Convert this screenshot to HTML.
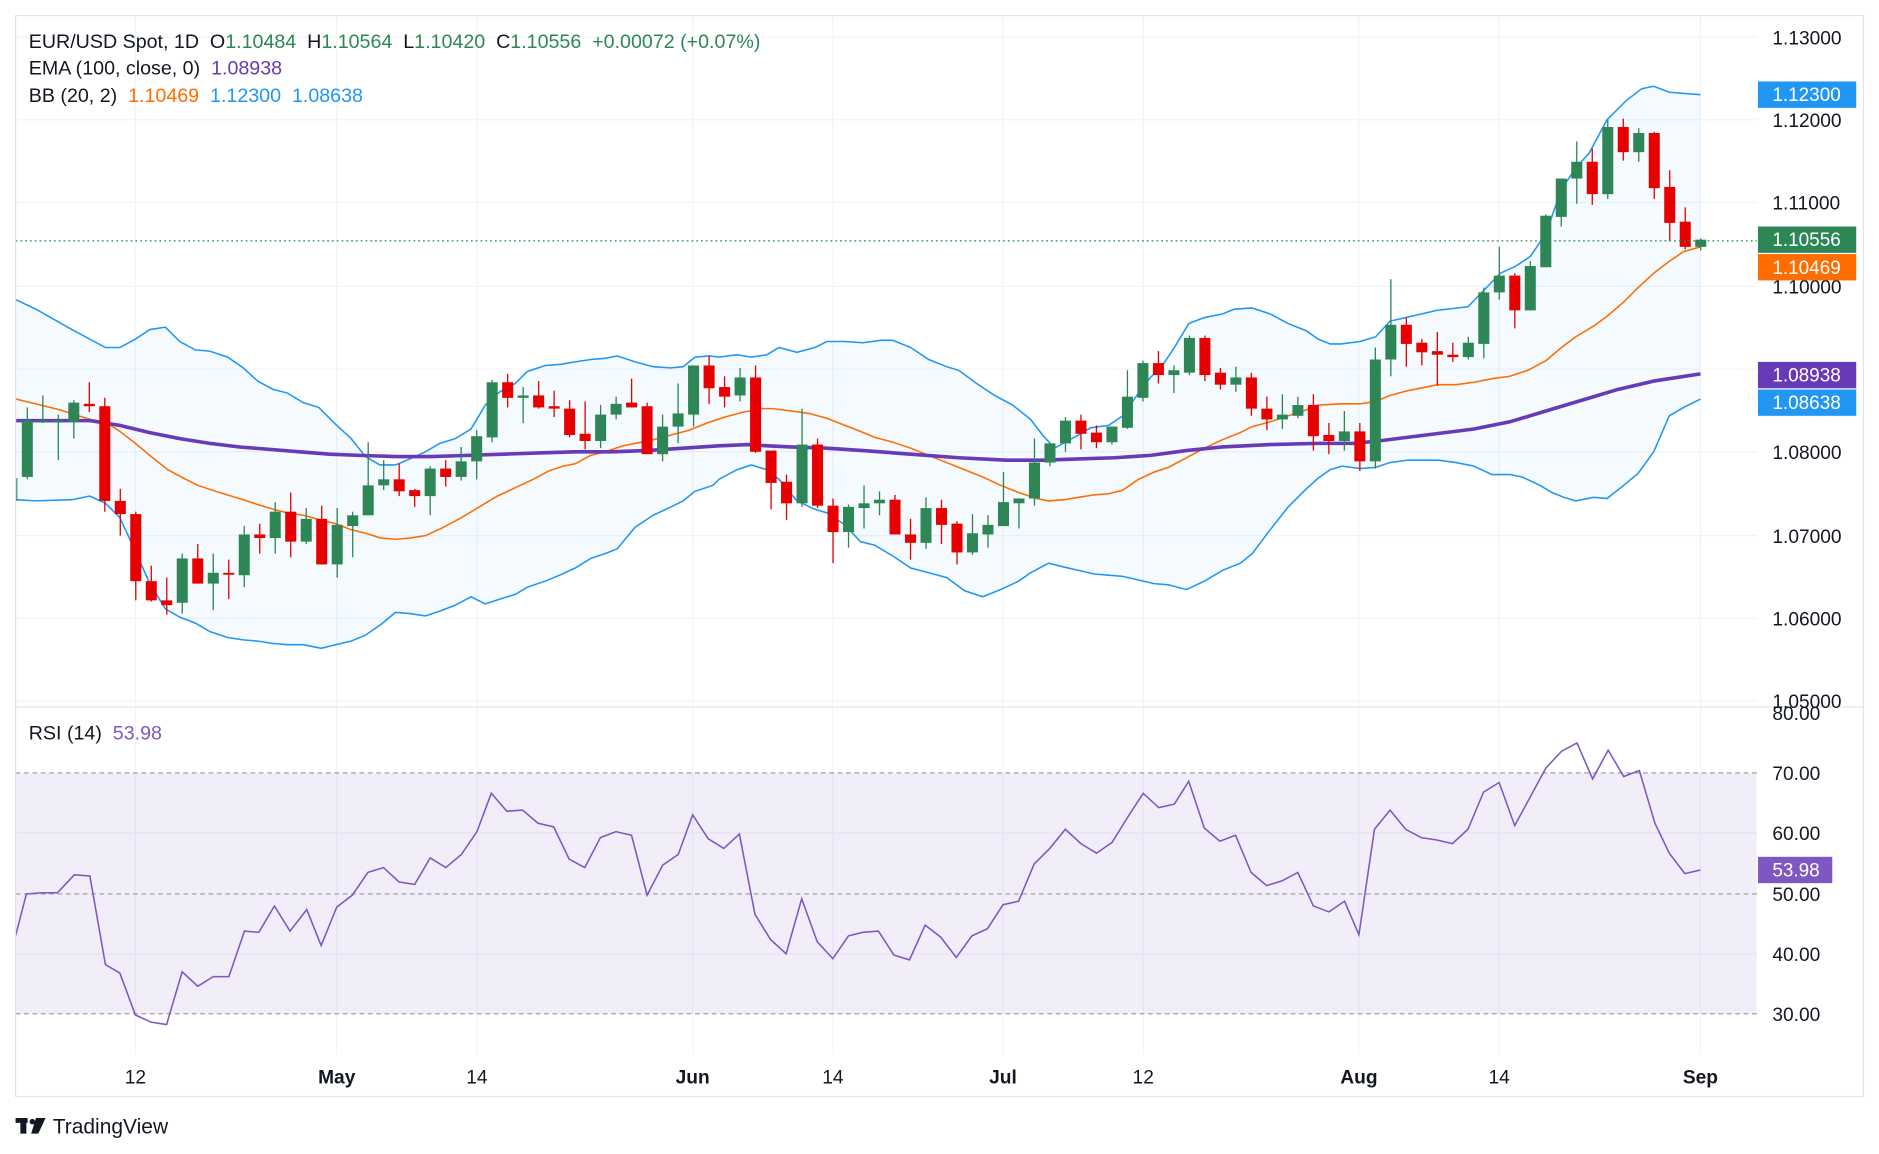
<!DOCTYPE html>
<html><head><meta charset="utf-8"><style>
html,body{margin:0;padding:0;background:#fff;}
svg{display:block;}
text{font-family:"Liberation Sans",sans-serif;white-space:pre;}
</style></head><body>
<svg id="s" width="1879" height="1154" viewBox="0 0 1568 963" preserveAspectRatio="none" xmlns="http://www.w3.org/2000/svg" xml:space="preserve">
<rect x="0" y="0" width="1568" height="963" fill="#fff"/>
<g id="grid" stroke="#f0f3fa" stroke-width="1"></g>
<path id="bbfill" fill="#2196f3" fill-opacity="0.05" stroke="none"/>
<rect x="13" y="645" width="1453" height="201" fill="#7e57c2" fill-opacity="0.1"/>
<g stroke="#9598a1" stroke-width="1" stroke-dasharray="4,3">
<line x1="13" y1="645" x2="1466" y2="645"/><line x1="13" y1="746" x2="1466" y2="746"/><line x1="13" y1="846" x2="1466" y2="846"/>
</g>
<polyline id="bbu" fill="none" stroke="#2196f3" stroke-width="1.3"/>
<polyline id="bbl" fill="none" stroke="#2196f3" stroke-width="1.3"/>
<polyline id="bbm" fill="none" stroke="#ff6d00" stroke-width="1.3"/>
<polyline id="ema" fill="none" stroke="#673ab7" stroke-width="3"/>
<g id="candles"></g>
<line x1="13" y1="201" x2="1466" y2="201" stroke="#2e8656" stroke-width="1" stroke-dasharray="1.5,2.5"/>
<polyline id="rsi" fill="none" stroke="#7e57c2" stroke-width="1.3"/>
<line x1="13" y1="590" x2="1555" y2="590" stroke="#e0e3eb" stroke-width="1"/>
<rect x="13" y="13" width="1542" height="902" fill="none" stroke="#e0e3eb" stroke-width="1"/>
<g font-size="16" fill="#131722">
<text x="1479" y="37">1.13000</text>
<text x="1479" y="106">1.12000</text>
<text x="1479" y="175">1.11000</text>
<text x="1479" y="245">1.10000</text>
<text x="1479" y="383">1.08000</text>
<text x="1479" y="453">1.07000</text>
<text x="1479" y="522">1.06000</text>
<text x="1479" y="591">1.05000</text>
<text x="1479" y="601">80.00</text>
<text x="1479" y="651">70.00</text>
<text x="1479" y="701">60.00</text>
<text x="1479" y="752">50.00</text>
<text x="1479" y="802">40.00</text>
<text x="1479" y="852">30.00</text>
</g>
<g font-size="15.8" fill="#fff">
<rect x="1467" y="68" width="82" height="22" fill="#2196f3"/><text x="1479" y="84.5">1.12300</text>
<rect x="1467" y="189" width="82" height="22" fill="#2e8656"/><text x="1479" y="205.5">1.10556</text>
<rect x="1467" y="212" width="82" height="22" fill="#ff6d00"/><text x="1479" y="228.5">1.10469</text>
<rect x="1467" y="302" width="82" height="22" fill="#673ab7"/><text x="1479" y="318.5">1.08938</text>
<rect x="1467" y="325" width="82" height="22" fill="#2196f3"/><text x="1479" y="341.5">1.08638</text>
<rect x="1467" y="715" width="62" height="22" fill="#7e57c2"/><text x="1479" y="731.5">53.98</text>
</g>
<g font-size="16" fill="#131722" text-anchor="middle">
<text x="113" y="904">12</text>
<text x="281" y="904" font-weight="bold">May</text>
<text x="398" y="904">14</text>
<text x="578" y="904" font-weight="bold">Jun</text>
<text x="695" y="904">14</text>
<text x="837" y="904" font-weight="bold">Jul</text>
<text x="954" y="904">12</text>
<text x="1134" y="904" font-weight="bold">Aug</text>
<text x="1251" y="904">14</text>
<text x="1419" y="904" font-weight="bold">Sep</text>
</g>
<g font-size="16.4">
<text x="24" y="40" fill="#131722">EUR/USD Spot, 1D  O<tspan fill="#2e8656">1.10484</tspan>  H<tspan fill="#2e8656">1.10564</tspan>  L<tspan fill="#2e8656">1.10420</tspan>  C<tspan fill="#2e8656">1.10556</tspan>  <tspan fill="#2e8656">+0.00072 (+0.07%)</tspan></text>
<text x="24" y="62" fill="#131722">EMA (100, close, 0)  <tspan fill="#673ab7">1.08938</tspan></text>
<text x="24" y="85" fill="#131722">BB (20, 2)  <tspan fill="#ff6d00">1.10469</tspan>  <tspan fill="#2196f3">1.12300</tspan>  <tspan fill="#2196f3">1.08638</tspan></text>
<text x="24" y="617" fill="#131722">RSI (14)  <tspan fill="#7e57c2">53.98</tspan></text>
</g>
<g fill="#131722">
<rect x="13" y="933" width="10" height="4"/><rect x="17" y="933" width="5" height="13"/>
<circle cx="27" cy="936" r="2.3"/><path d="M30 933 L38 933 L32 946 L26 946 Z"/>
<text x="44" y="946" font-size="17.5">TradingView</text>
</g>
</svg>
<script>
var NS="http://www.w3.org/2000/svg",s=document.getElementById('s');
function el(t,a,p){var e=document.createElementNS(NS,t);for(var k in a)e.setAttribute(k,a[k]);(p||s).appendChild(e);return e;}
var g=document.getElementById('grid');
[113,281,398,578,695,837,954,1134,1251,1419].forEach(function(x){el('line',{x1:x,y1:13,x2:x,y2:880},g);});
[31,100,169,239,308,377,447,516,585,695,796].forEach(function(y){el('line',{x1:13,y1:y,x2:1466,y2:y},g);});
function pts(a){var r=[];for(var i=0;i<a.length;i+=2)r.push(a[i]+','+a[i+1]);return r.join(' ');}
var U=[13,250,30,258,60,275,88,290,100,290,113,283,125,275,138,273,150,285,163,292,175,293,190,298,203,307,215,318,228,325,240,328,253,336,266,340,280,354,293,366,305,381,317,388,330,388,342,383,355,377,367,370,380,366,393,358,405,338,417,327,430,320,440,310,455,305,468,304,480,302,493,300,505,299,515,297,530,302,545,306,560,307,570,306,580,298,592,297,600,298,615,296,627,298,640,296,650,290,665,294,680,290,690,285,705,285,720,286,735,284,745,284,760,290,775,300,790,306,800,309,815,320,830,330,845,338,860,350,870,363,880,374,887,370,900,363,910,357,925,355,937,347,950,328,960,315,970,305,980,290,992,270,1005,265,1020,262,1030,258,1045,257,1060,262,1075,270,1090,276,1100,283,1110,287,1119,287,1135,285,1148,281,1160,268,1199,259,1225,256,1252,228,1265,222,1277,214,1290,195,1303,158,1315,140,1326,128,1341,100,1357,84,1370,74,1380,72,1393,77,1419,79];
var L=[13,417,30,418,60,417,75,414,88,420,100,432,113,460,125,487,138,508,150,515,163,520,175,527,190,532,203,534,215,535,228,537,240,538,253,538,268,541,280,538,293,535,305,530,318,521,330,511,342,512,355,514,367,510,380,505,393,498,405,504,417,500,430,496,440,490,455,485,467,480,480,474,493,466,505,462,515,458,530,440,545,430,560,423,570,418,580,410,595,405,600,400,615,392,627,388,640,392,650,400,665,418,680,425,690,428,705,438,718,452,730,455,745,464,760,474,775,478,790,482,805,493,820,498,835,492,850,485,860,478,875,470,887,473,900,476,913,479,925,480,937,481,950,484,963,487,975,488,990,492,1005,485,1020,476,1035,470,1045,462,1060,442,1075,423,1090,408,1100,399,1110,392,1120,389,1135,391,1148,390,1160,386,1175,384,1200,384,1215,386,1230,389,1245,396,1260,396,1270,398,1285,405,1295,411,1305,415,1315,418,1330,415,1341,416,1355,405,1367,395,1380,377,1393,347,1405,340,1419,333];
var M=[13,333,30,337,50,342,75,350,88,352,100,360,113,370,125,380,140,392,155,400,165,405,180,410,203,417,215,421,228,425,240,428,253,430,268,434,280,437,293,442,305,445,318,449,330,450,342,449,355,447,370,440,385,432,400,423,415,414,430,407,445,400,458,393,470,389,480,387,493,380,505,377,520,372,535,369,545,367,560,363,575,359,590,353,605,348,620,344,635,341,645,341,660,343,675,345,690,349,705,355,718,360,730,365,745,369,760,374,775,380,790,386,805,392,820,398,835,405,850,411,865,416,875,418,888,417,900,415,913,413,925,412,937,409,950,400,963,394,975,390,990,382,1005,374,1020,367,1035,361,1045,356,1060,352,1075,347,1090,342,1100,338,1120,337,1135,337,1148,335,1160,330,1175,326,1190,323,1200,321,1215,321,1230,319,1245,316,1260,314,1275,309,1290,301,1303,290,1315,281,1330,272,1341,264,1355,252,1367,240,1380,228,1393,218,1405,210,1419,206];
var E=[13,351,40,351,75,351,100,355,125,361,150,366,175,370,200,373,225,375,250,377,275,379,300,380,330,381,360,381,390,380,420,379,450,378,480,377,510,377,540,376,570,374,600,372,625,371,640,372,660,373,690,374,720,376,760,379,800,382,840,384,870,384,900,383,930,382,960,380,990,376,1020,373,1060,371,1100,370,1130,370,1150,368,1190,363,1230,358,1260,352,1290,343,1320,334,1350,325,1380,318,1419,312];
var R=[13,781,22,746,35,745,48,745,62,730,75,731,88,805,100,812,113,847,126,853,139,855,152,811,165,823,178,815,191,815,204,777,216,778,229,756,242,777,256,759,268,789,281,757,294,747,307,728,320,724,333,736,346,738,359,716,372,724,385,713,398,694,410,662,423,677,436,676,449,687,462,690,475,717,488,724,501,699,514,694,527,697,540,747,553,722,566,713,578,680,591,700,604,708,617,696,630,763,643,784,656,796,669,750,682,786,695,800,708,781,720,778,733,777,746,797,759,801,772,772,785,782,798,799,811,781,824,775,837,755,850,752,863,721,876,708,889,692,902,704,915,712,928,703,941,682,954,662,967,674,980,671,992,652,1005,691,1018,702,1031,697,1044,728,1057,739,1070,735,1083,728,1096,756,1109,761,1122,752,1134,780,1147,692,1160,676,1173,692,1186,699,1199,701,1212,704,1225,692,1238,661,1251,653,1264,689,1277,665,1290,641,1303,627,1316,620,1329,650,1342,626,1355,648,1368,643,1381,687,1393,712,1406,729,1419,726];
document.getElementById('bbu').setAttribute('points',pts(U));
document.getElementById('bbl').setAttribute('points',pts(L));
document.getElementById('bbm').setAttribute('points',pts(M));
document.getElementById('ema').setAttribute('points',pts(E));
document.getElementById('rsi').setAttribute('points',pts(R));
var d='M'+pts(U).split(' ').join(' L');var lr=[];for(var i=L.length-2;i>=0;i-=2)lr.push(L[i]+','+L[i+1]);d+=' L'+lr.join(' L')+' Z';
document.getElementById('bbfill').setAttribute('d',d);
var C=[[398,351,340,400],[352,351,330,353],[352,351,346,384],[352,336,334,366],[337,339,319,344],[339,418,332,427],[418,429,408,447],[429,485,427,501],[485,501,472,502],[501,505,482,513],[503,466,462,512],[466,487,454,487],[487,478,462,509],[478,479,467,500],[480,446,439,490],[446,449,437,462],[449,427,419,462],[427,452,411,465],[452,433,424,454],[433,471,422,471],[471,438,424,482],[439,430,427,465],[430,405,369,430],[405,400,384,409],[400,410,387,414],[409,414,408,423],[414,391,389,430],[391,398,384,406],[398,385,373,401],[385,364,359,400],[365,319,317,369],[319,332,312,340],[332,330,323,353],[330,340,318,341],[339,341,326,348],[341,363,334,365],[362,368,335,375],[368,346,338,374],[346,337,331,350],[336,340,316,340],[339,379,336,379],[379,356,346,385],[356,345,320,370],[346,305,305,356],[305,324,297,337],[323,331,314,340],[330,315,307,335],[315,377,305,378],[376,403,376,425],[402,420,396,434],[420,371,341,423],[371,422,366,424],[422,444,416,470],[444,423,421,457],[424,420,405,441],[420,417,410,430],[417,446,413,446],[446,453,433,467],[453,424,415,458],[424,438,417,454],[437,461,435,471],[461,445,429,463],[446,438,430,457],[439,419,394,439],[420,416,416,441],[416,386,366,422],[386,370,370,389],[370,351,348,377],[351,362,346,375],[361,369,355,374],[369,356,356,371],[357,331,309,358],[332,303,301,335],[303,313,293,320],[313,309,305,328],[311,282,280,313],[282,313,280,318],[311,321,307,325],[321,315,306,327],[315,341,311,347],[341,350,331,359],[350,346,329,358],[347,338,331,349],[338,364,329,376],[363,368,353,379],[368,360,343,376],[360,385,353,393],[385,300,290,391],[300,271,233,314],[271,287,265,306],[286,294,283,305],[293,296,277,322],[296,298,286,302],[298,286,281,300],[287,244,240,299],[244,230,206,250],[230,259,228,274],[259,222,218,259],[223,180,179,223],[181,149,149,189],[149,135,118,170],[135,162,124,171],[162,106,100,166],[106,127,99,134],[127,111,107,135],[111,157,110,166],[156,186,142,201],[185,206,173,208],[206,200,199,209]];
var cg=document.getElementById('candles');
el('line',{x1:14,y1:399,x2:14,y2:418,stroke:'#2e8656','stroke-width':1},cg);
C.forEach(function(c,i){var x=22.8+i*12.93,o=c[0],cl=c[1],up=cl<=o,col=up?'#2e8656':'#e60000';
el('line',{x1:x,y1:c[2],x2:x,y2:c[3],stroke:col,'stroke-width':1.1},cg);
var t=Math.min(o,cl),h=Math.max(Math.abs(o-cl),1.6);
el('rect',{x:x-4.6,y:t,width:9.2,height:h,fill:col},cg);});
</script>
</body></html>
